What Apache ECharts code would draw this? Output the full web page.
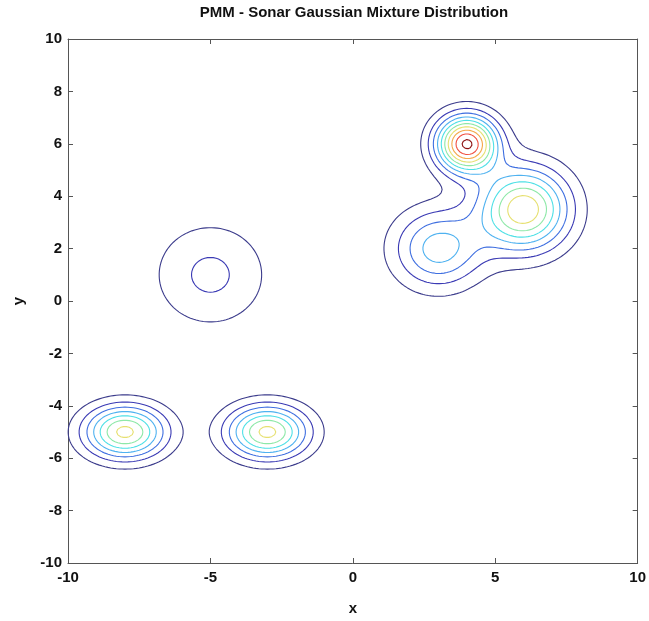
<!DOCTYPE html>
<html>
<head>
<meta charset="utf-8">
<script src="https://cdn.jsdelivr.net/npm/echarts@6/dist/echarts.min.js"></script>
<style>
html, body { margin: 0; padding: 0; background: #fff; }
#main { width: 649px; height: 621px; }
</style>
</head>
<body>
<div id="main"></div>
<script>
// gaussian mixture components
var compX = [-5, -8, -3, 4, 6, 3];
var compY = [1, -5, -5, 6, 3.5, 2];
var compSx = [1.42, 1.0, 1.0, 0.75, 1.1, 1.1];
var compSy = [1.42, 0.71, 0.71, 0.75, 1.1, 1.05];
var compW = [0.130, 0.150, 0.150, 0.165, 0.273, 0.150];

// contour levels
var levels = [0.0046, 0.0092, 0.0138, 0.0184, 0.0230, 0.0276, 0.0322, 0.0368, 0.0414, 0.0460];

// axes
var xMin = -10, xMax = 10, xStep = 5;
var yMin = -10, yMax = 10, yStep = 2;

// colours (jet-like), low -> high
var levelColors = ['#3c3c8c', '#3a3ab4', '#3f6fe0', '#4fb2f0', '#4fe0e6',
                   '#8ee8a8', '#e6e070', '#f5a84a', '#f05040', '#8c1010'];

function density(x, y) {
    var s = 0;
    for (var i = 0; i < compW.length; i++) {
        var dx = (x - compX[i]) / compSx[i];
        var dy = (y - compY[i]) / compSy[i];
        s += compW[i] / (2 * Math.PI * compSx[i] * compSy[i]) * Math.exp(-0.5 * (dx * dx + dy * dy));
    }
    return s;
}

// sample grid
var N = 401;
var h = (xMax - xMin) / (N - 1);
var Z = [];
for (var j = 0; j < N; j++) {
    var row = [];
    for (var i = 0; i < N; i++) row.push(density(xMin + i * h, yMin + j * h));
    Z.push(row);
}

// marching squares -> list of polylines
function contour(level) {
    var pts = {}, adj = {};
    function edgePoint(key) {
        if (pts[key]) return;
        var id = key >> 1, i = id % N, j = (id - i) / N, t;
        if ((key & 1) === 0) { // horizontal edge (i,j)-(i+1,j)
            t = (level - Z[j][i]) / (Z[j][i + 1] - Z[j][i]);
            pts[key] = [xMin + (i + t) * h, yMin + j * h];
        } else { // vertical edge (i,j)-(i,j+1)
            t = (level - Z[j][i]) / (Z[j + 1][i] - Z[j][i]);
            pts[key] = [xMin + i * h, yMin + (j + t) * h];
        }
    }
    function link(a, b) {
        edgePoint(a); edgePoint(b);
        (adj[a] = adj[a] || []).push(b);
        (adj[b] = adj[b] || []).push(a);
    }
    for (var j = 0; j < N - 1; j++) {
        for (var i = 0; i < N - 1; i++) {
            var c = [Z[j][i], Z[j][i + 1], Z[j + 1][i + 1], Z[j + 1][i]]; // bl br tr tl
            var up = c.map(function (v) { return v >= level; });
            var e = [
                (j * N + i) * 2,            // bottom
                (j * N + i + 1) * 2 + 1,    // right
                ((j + 1) * N + i) * 2,      // top
                (j * N + i) * 2 + 1         // left
            ];
            var cross = [];
            for (var k = 0; k < 4; k++) if (up[k] !== up[(k + 1) % 4]) cross.push(k);
            if (cross.length === 2) {
                link(e[cross[0]], e[cross[1]]);
            } else if (cross.length === 4) {
                var centerUp = (c[0] + c[1] + c[2] + c[3]) / 4 >= level;
                // corner k sits between edges k-1 and k
                for (var k = 0; k < 4; k++) {
                    if (up[k] !== centerUp) link(e[(k + 3) % 4], e[k]);
                }
            }
        }
    }
    var seen = {}, lines = [];
    function walk(start) {
        var line = [pts[start]], prev = null, cur = start;
        seen[cur] = true;
        while (true) {
            var nb = adj[cur], next = null;
            for (var n = 0; n < nb.length; n++) {
                if (!seen[nb[n]]) { next = nb[n]; break; }
                if (nb[n] == start && nb[n] != prev && line.length > 2) { line.push(pts[start]); return line; }
            }
            if (next === null) return line;
            seen[next] = true;
            line.push(pts[next]);
            prev = cur;
            cur = next;
        }
    }
    var keys = Object.keys(adj);
    keys.forEach(function (k) { if (!seen[k] && adj[k].length === 1) lines.push(walk(+k)); });
    keys.forEach(function (k) { if (!seen[k]) lines.push(walk(+k)); });
    return lines;
}

var series = [];
levels.forEach(function (lv, li) {
    contour(lv).forEach(function (line) {
        series.push({
            type: 'line',
            data: line,
            showSymbol: false,
            silent: true,
            animation: false,
            lineStyle: { color: levelColors[li], width: 1.1 }
        });
    });
});

var chart = echarts.init(document.getElementById('main'));
var labelStyle = { color: '#111', fontSize: 15, fontWeight: 'bold', fontFamily: 'Liberation Sans, Arial, sans-serif' };
var lineStyle = { color: '#555', width: 1 };

function frameAxis(pos) {
    return {
        type: 'value', position: pos,
        axisLine: { onZero: false, lineStyle: lineStyle },
        axisTick: { inside: true, length: 5, lineStyle: lineStyle },
        axisLabel: { show: false },
        splitLine: { show: false }
    };
}

var topAxis = frameAxis('top');
topAxis.min = xMin; topAxis.max = xMax; topAxis.interval = xStep;
var rightAxis = frameAxis('right');
rightAxis.min = yMin; rightAxis.max = yMax; rightAxis.interval = yStep;

var option = {
    backgroundColor: '#fff',
    animation: false,
    graphic: [{
        type: 'text',
        x: 354,
        y: 5,
        style: {
            text: 'PMM - Sonar Gaussian Mixture Distribution',
            textAlign: 'center',
            fill: '#111',
            font: 'bold 15px "Liberation Sans", Arial, sans-serif'
        }
    }],
    grid: { left: 68, right: 9, top: 39, bottom: 56 },
    xAxis: [{
        type: 'value', min: xMin, max: xMax, interval: xStep, position: 'bottom',
        name: 'x', nameLocation: 'middle', nameGap: 38,
        nameTextStyle: labelStyle,
        axisLine: { onZero: false, lineStyle: lineStyle },
        axisTick: { inside: true, length: 5, lineStyle: lineStyle },
        axisLabel: Object.assign({ margin: 7 }, labelStyle),
        splitLine: { show: false }
    }, topAxis],
    yAxis: [{
        type: 'value', min: yMin, max: yMax, interval: yStep, position: 'left',
        name: 'y', nameLocation: 'middle', nameGap: 42, nameRotate: 90,
        nameTextStyle: labelStyle,
        axisLine: { onZero: false, lineStyle: lineStyle },
        axisTick: { inside: true, length: 5, lineStyle: lineStyle },
        axisLabel: Object.assign({ margin: 6 }, labelStyle),
        splitLine: { show: false }
    }, rightAxis],
    series: series
};
chart.setOption(option);
</script>
</body>
</html>
